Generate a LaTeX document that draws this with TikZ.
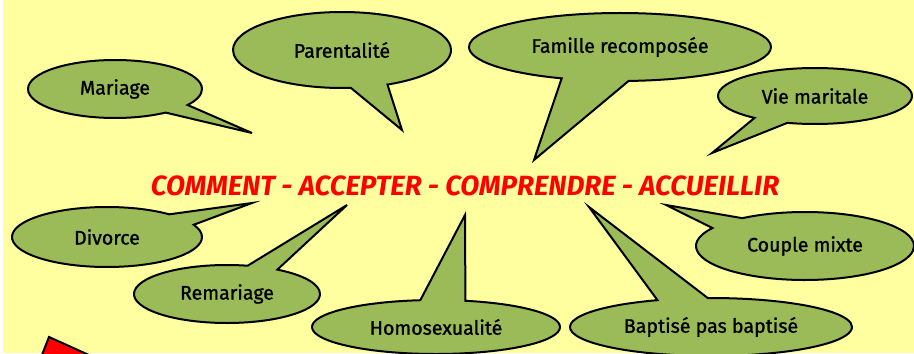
\documentclass[tikz,border=0pt]{standalone}
\usepackage{fontspec}
\setmainfont{Fira Sans}
\newfontfamily\epais[FakeBold=1.2]{Fira Sans}
\usepackage{tikz}
\usetikzlibrary{shapes.geometric}
\usetikzlibrary{shapes.callouts}

\definecolor{fond}{RGB}{255,255,160}
\definecolor{olive}{RGB}{155,187,89}
\definecolor{rouge}{RGB}{255,0,0}

\begin{document}
\begin{tikzpicture}[x=0.5pt,y=-0.5pt,
  bulle/.style={ellipse callout,draw=black,line width=1pt,fill=olive,inner sep=0pt,
    font=\epais\fontsize{9.8}{11}\selectfont},
  titre/.style={text=rouge,font=\fontsize{13.9}{15}\selectfont\bfseries\itshape}]

   % fond
   \fill[fond] (0,0) rectangle (914,353);
   \fill[white] (0,0) rectangle (3,353);
   \useasboundingbox (0,0) rectangle (914,353);

   \node[titre] (titre) at (465,186) {COMMENT - ACCEPTER - COMPRENDRE - ACCUEILLIR};

   \begin{scope}
   \clip (0,0) rectangle (914,353);
   % bulles
   \foreach \nm/\x/\y/\w/\h/\px/\py/\arc/\txt in {
      mariage/115/89/87/29/252/133/21/Mariage,
      parent/342/50/109/38/402/130/20/Parentalité,
      famille/620/47/151/34/534/160/26/Famille recomposée,
      vie/815/96/97/28/712/153/22/Vie maritale,
      divorce/107/237/95/30/252/203/25/Divorce,
      remariage/227/294/93/29/347/205/20/Remariage,
      homo/436/327/124/27/465/215/21/Homosexualité,
      couple/805/246/109/34/666/205/23/Couple mixte,
      bapt/711/327/141/29/589/207/21/Baptisé pas baptisé}  {
      \node[bulle,minimum width=\w pt,minimum height=\h pt,callout pointer arc=\arc,
         callout absolute pointer={(\px,\py)}] (\nm) at (\x,\y) {\txt};
   }
   % fleche rouge (coupee)
   \filldraw[fill=rouge,draw=black,line width=1pt] (40,360) -- (49,337) -- (100,360) -- cycle;
   \end{scope}

\end{tikzpicture}
\end{document}
